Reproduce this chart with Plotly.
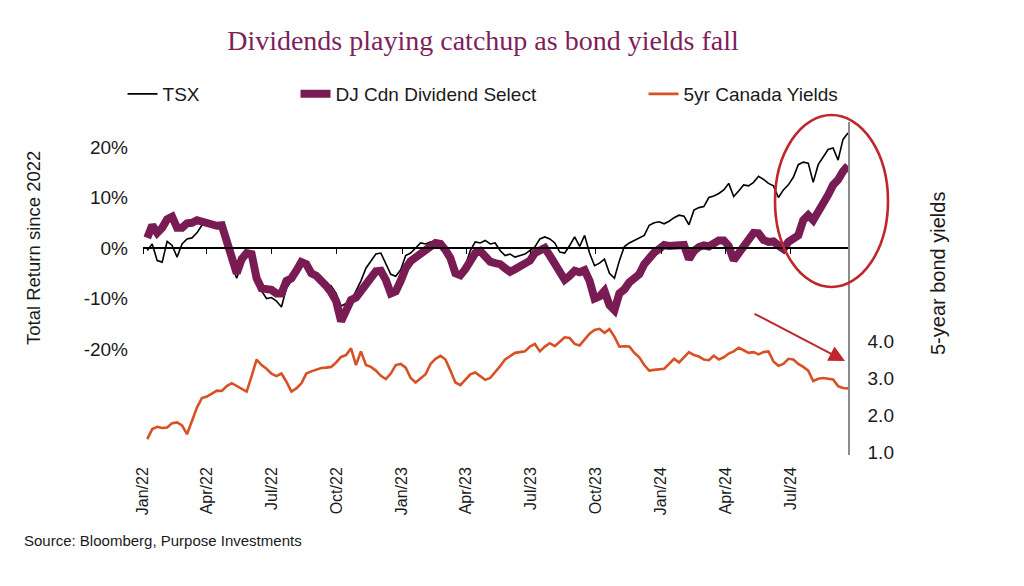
import pandas as pd
import plotly.graph_objects as go

# ---- data (weekly readings, first Friday of Jan 2022 onward) ----
dates = pd.date_range("2022-01-07", periods=142, freq="7D")

tsx = [-0.5, 0.8, -2.5, -2.8, 1.3, 0.5, -1.8, 0.8, 1.8, 2.0,
       3.0, 4.5, 4.8, 4.5, 4.2, 4.0, 1.0, -3.5, -6.0, -3.0,
       -1.5, -2.0, -6.5, -8.5, -10.0, -9.8, -10.5, -11.7, -8.0, -6.5,
       -5.0, -3.0, -3.5, -5.5, -5.0, -6.0, -7.0, -7.5, -9.0, -11.5,
       -11.0, -10.5, -8.5, -6.5, -4.0, -2.5, -1.2, -1.0, -3.0, -5.2,
       -5.6, -4.3, -1.5, -1.0, 0.0, 1.0, 0.8, 1.2, 0.8, 0.5,
       -0.5, -2.5, -5.0, -5.5, -3.5, -0.5, 1.2, 1.0, 1.5, 0.8,
       1.0, -0.5, -1.5, -1.2, -1.8, -1.5, -1.2, -0.5, 0.2, 1.8,
       2.2, 1.8, 1.0, -0.8, -1.0, 0.5, 2.2, 0.3, 2.5, -1.0,
       -3.5, -3.0, -2.2, -5.0, -6.0, -2.5, 0.3, 1.0, 1.5, 2.0,
       2.5, 4.5, 5.0, 5.2, 4.8, 5.3, 6.0, 6.5, 6.3, 4.6,
       7.5, 8.0, 8.2, 10.0, 10.3, 10.8, 11.5, 12.8, 10.2, 11.3,
       12.5, 12.3, 13.0, 14.2, 13.6, 12.8, 12.3, 10.0, 11.5, 12.5,
       14.0, 16.5, 17.0, 16.8, 13.0, 16.5, 18.0, 19.5, 19.8, 17.4,
       21.5, 22.8]

dj_div = [2.0, 4.5, 3.0, 4.0, 5.7, 6.2, 4.0, 4.0, 4.9, 5.0,
          5.5, 5.2, 5.0, 4.6, 4.4, 4.5, 1.5, -2.5, -5.0, -2.2,
          -1.0, -1.2, -6.0, -8.0, -8.0, -8.3, -9.0, -9.0, -6.5, -6.0,
          -4.5, -2.8, -3.2, -5.0, -5.5, -6.3, -7.5, -8.8, -10.5, -14.5,
          -12.5, -10.3, -9.8, -8.6, -6.8, -5.9, -4.6, -4.5, -6.3, -9.0,
          -8.6, -6.5, -4.0, -2.6, -1.8, -0.8, -0.2, 0.3, 1.0, 0.8,
          -0.4, -2.0, -5.0, -5.4, -4.2, -2.3, -1.0, -0.6, -1.6, -2.7,
          -3.0, -3.2, -4.0, -4.7, -4.2, -3.6, -3.3, -2.5, -1.0, -0.3,
          0.0, -1.5, -3.0, -4.5, -6.3, -5.5, -4.5, -4.8, -4.4, -6.5,
          -10.0, -9.6, -8.5, -11.3, -12.3, -9.0, -8.2, -6.8, -6.2, -5.2,
          -3.2, -1.8, -0.9, -0.2, 0.6, 0.4, 0.6, 0.8, 0.6, -2.2,
          -0.6, 0.2, 0.5, 0.3, 0.9, 1.5, 1.5, 0.4, -2.4, -1.2,
          0.0, 1.5, 3.0, 2.9, 1.6, 1.2, 1.3, 0.5, -0.2, 1.2,
          1.8, 2.5, 5.5, 6.5, 5.5, 7.0, 9.0, 10.5, 12.5, 13.5,
          15.2, 16.3]

yields_5y = [1.35, 1.62, 1.68, 1.65, 1.66, 1.78, 1.80, 1.72, 1.48, 1.85,
             2.2, 2.46, 2.5, 2.58, 2.66, 2.65, 2.78, 2.86, 2.78, 2.72,
             2.63, 3.05, 3.5, 3.35, 3.25, 3.12, 3.05, 3.12, 2.9, 2.63,
             2.72, 2.85, 3.12, 3.18, 3.22, 3.27, 3.28, 3.3, 3.42, 3.57,
             3.62, 3.8, 3.35, 3.72, 3.35, 3.3, 3.2, 3.06, 2.97, 3.12,
             3.35, 3.38, 3.28, 3.0, 2.88, 2.98, 3.1, 3.38, 3.52, 3.6,
             3.5, 3.2, 2.88, 2.81, 2.95, 3.1, 3.15, 3.05, 2.95, 3.0,
             3.15, 3.32, 3.5, 3.6, 3.68, 3.7, 3.72, 3.85, 3.92, 3.72,
             3.85, 3.94, 3.86, 3.98, 4.1, 4.08, 3.92, 3.88, 4.05, 4.2,
             4.3, 4.33, 4.22, 4.32, 4.12, 3.85, 3.86, 3.85, 3.68, 3.56,
             3.35, 3.2, 3.22, 3.24, 3.25, 3.38, 3.52, 3.42, 3.55, 3.7,
             3.62, 3.58, 3.5, 3.48, 3.6, 3.5, 3.56, 3.66, 3.72, 3.82,
             3.75, 3.68, 3.7, 3.64, 3.7, 3.72, 3.45, 3.33, 3.38, 3.52,
             3.5, 3.38, 3.3, 3.2, 2.92, 2.98, 3.0, 2.98, 2.96, 2.78,
             2.73, 2.72]

tick_dates = ["2022-01-01", "2022-04-01", "2022-07-01", "2022-10-01",
              "2023-01-01", "2023-04-01", "2023-07-01", "2023-10-01",
              "2024-01-01", "2024-04-01", "2024-07-01"]
tick_labels = ["Jan/22", "Apr/22", "Jul/22", "Oct/22", "Jan/23", "Apr/23",
               "Jul/23", "Oct/23", "Jan/24", "Apr/24", "Jul/24"]
left_ticks = [-20, -10, 0, 10, 20]
left_labels = ["-20%", "-10%", "0%", "10%", "20%"]
right_ticks = [1, 2, 3, 4]
right_labels = ["1.0", "2.0", "3.0", "4.0"]

# ---- styling ----
OFF = 8                                   # page body margin of the html
W, H = 1024 - OFF, 586 - OFF
L, R, T, B = 143, 848, 122, 455           # plot area in window pixels
PW, PH = R - L, B - T
SANS = "Liberation Sans, Arial, sans-serif"
PURPLE = "#7A1C54"
ORANGE = "#D65224"
RED = "#C0272D"
TXT = "#1a1a1a"

y_left = [-40.99, 24.95]
y_right = [0.919, 9.919]
zero_pos = (0 - y_left[0]) / (y_left[1] - y_left[0])

def px_x(p):
    return (p - L) / PW

def px_y(p):
    return (B - p) / PH

fig = go.Figure()
fig.add_trace(go.Scatter(x=dates, y=tsx, name="TSX", mode="lines",
                         line=dict(color="#000000", width=1.6),
                         legend="legend"))
fig.add_trace(go.Scatter(x=dates, y=dj_div, name="DJ Cdn Dividend Select",
                         mode="lines", line=dict(color=PURPLE, width=8),
                         legend="legend2"))
fig.add_trace(go.Scatter(x=dates, y=yields_5y, name="5yr Canada Yields",
                         mode="lines", line=dict(color=ORANGE, width=2.6),
                         yaxis="y2", legend="legend3"))
# helper trace so the zero-line axis is drawn
fig.add_trace(go.Scatter(x=[], y=[], xaxis="x2", yaxis="y", showlegend=False,
                         hoverinfo="skip"))

xrange = ["2022-01-01", "2024-09-20"]

leg_common = dict(orientation="h", yanchor="middle", y=px_y(94),
                  xanchor="left", bgcolor="rgba(0,0,0,0)",
                  font=dict(family=SANS, size=19, color=TXT))

fig.update_layout(
    width=W, height=H, autosize=False,
    margin=dict(l=L - OFF, r=1024 - R, t=T - OFF, b=586 - B, pad=0),
    paper_bgcolor="white", plot_bgcolor="white",
    hovermode=False,
    title=dict(text="Dividends playing catchup as bond yields fall",
               x=(483 - OFF) / W, xref="container", xanchor="center",
               y=1 - (40 - OFF) / H, yref="container", yanchor="middle",
               font=dict(family="Liberation Serif, Times New Roman, serif",
                         size=28, color="#7E1F5C")),
    xaxis=dict(type="date", range=xrange, domain=[0, 1],
               tickvals=tick_dates, ticktext=tick_labels, tickangle=-90,
               showgrid=False, zeroline=False, showline=False, ticks="",
               ticklabelstandoff=8,
               tickfont=dict(family=SANS, size=16, color=TXT)),
    xaxis2=dict(type="date", range=xrange, overlaying="x", anchor="free",
                position=zero_pos, side="bottom",
                tickvals=tick_dates, showticklabels=False,
                showline=True, linecolor="#000000", linewidth=1.5,
                ticks="outside", ticklen=5, tickwidth=1.2, tickcolor="#000000",
                showgrid=False, zeroline=False),
    yaxis=dict(range=y_left, tickvals=left_ticks, ticktext=left_labels,
               showgrid=False, zeroline=False, showline=False, ticks="",
               ticklabelstandoff=14,
               tickfont=dict(family=SANS, size=19, color=TXT)),
    yaxis2=dict(range=y_right, overlaying="y", side="right", anchor="x",
                tickvals=right_ticks, ticktext=right_labels,
                showgrid=False, zeroline=False, showline=True,
                linecolor="#8c8c8c", linewidth=1.5, ticks="",
                ticklabelstandoff=14,
                tickfont=dict(family=SANS, size=19, color=TXT)),
    legend=dict(x=px_x(131) - 0.012, **leg_common),
    legend2=dict(x=px_x(304) - 0.012, **leg_common),
    legend3=dict(x=px_x(652) - 0.012, **leg_common),
    showlegend=True,
)

fig.add_annotation(text="Total Return since 2022", xref="paper", yref="paper",
                   x=px_x(33), y=px_y(248), textangle=-90, showarrow=False,
                   xanchor="center", yanchor="middle",
                   font=dict(family=SANS, size=18.5, color=TXT))
fig.add_annotation(text="5-year bond yields", xref="paper", yref="paper",
                   x=px_x(938), y=px_y(274), textangle=-90, showarrow=False,
                   xanchor="center", yanchor="middle",
                   font=dict(family=SANS, size=20, color=TXT))
fig.add_annotation(text="Source: Bloomberg, Purpose Investments",
                   xref="paper", yref="paper", x=px_x(22), y=px_y(540),
                   xanchor="left", yanchor="middle", showarrow=False,
                   font=dict(family=SANS, size=15, color=TXT))
# red arrow pointing at falling yields
fig.add_annotation(text="", xref="paper", yref="paper",
                   x=px_x(845), y=px_y(361), ax=753 - 845, ay=313 - 361,
                   axref="pixel", ayref="pixel", showarrow=True,
                   arrowhead=2, arrowsize=1.6, arrowwidth=2,
                   arrowcolor=RED)
# red ellipse highlighting recent move
fig.add_shape(type="circle", xref="paper", yref="paper",
              x0=px_x(775), x1=px_x(888), y0=px_y(287), y1=px_y(115),
              line=dict(color=RED, width=2.6), layer="above")

fig.write_html("out.html")
